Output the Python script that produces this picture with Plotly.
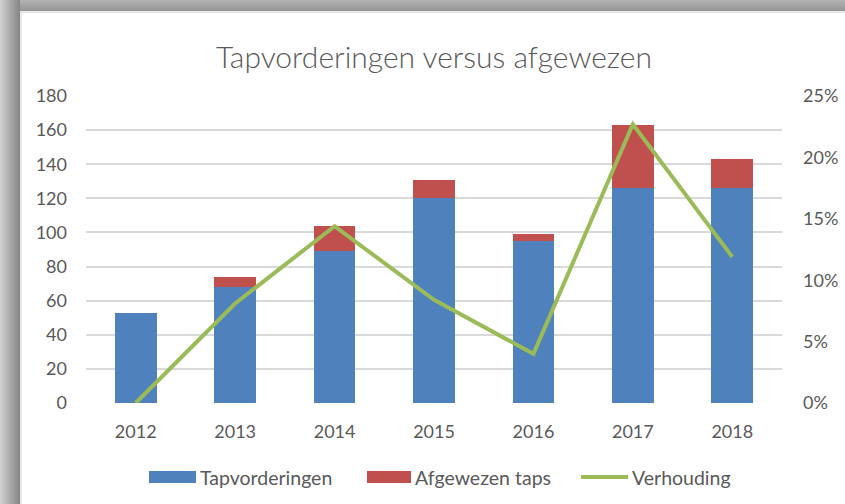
import plotly.graph_objects as go

years = ["2012", "2013", "2014", "2015", "2016", "2017", "2018"]
tapvorderingen = [53, 68, 89, 120, 95, 126, 126]
afgewezen = [0, 6, 15, 11, 4, 37, 17]
verhouding = [0.0, 0.081, 0.144, 0.084, 0.040, 0.227, 0.119]

left_ticks = [0, 20, 40, 60, 80, 100, 120, 140, 160, 180]
right_ticks = [0, 0.05, 0.10, 0.15, 0.20, 0.25]
right_labels = ["0%", "5%", "10%", "15%", "20%", "25%"]

series_names = ["Tapvorderingen", "Afgewezen taps", "Verhouding"]
series_colors = ["#4F81BD", "#C0504D", "#9BBB59"]

W, H = 845, 504
L, R, T, B = 86, 63, 96, 101
PW, PH = W - L - R, H - T - B

def px(x):
    return (x - L) / PW

def py(y):
    return (H - B - y) / PH

TXT = "#595959"
FONT = "Lato"

fig = go.Figure()
fig.add_trace(go.Bar(x=years, y=tapvorderingen, name=series_names[0],
                     marker=dict(color=series_colors[0], line=dict(width=0))))
fig.add_trace(go.Bar(x=years, y=afgewezen, name=series_names[1],
                     marker=dict(color=series_colors[1], line=dict(width=0))))
fig.add_trace(go.Scatter(x=years, y=verhouding, name=series_names[2], yaxis="y2",
                         mode="lines", line=dict(color=series_colors[2], width=4)))

shapes = []
# shadow frame: left strip gradient
n = 20
for i in range(n):
    c = int(208 - (208 - 135) * i / (n - 1))
    shapes.append(dict(type="rect", xref="paper", yref="paper",
                       x0=px(i), x1=px(i + 1), y0=py(H + 5), y1=py(-5),
                       fillcolor=f"rgb({c},{c},{c})", line=dict(width=0), layer="below"))
# top strip gradient
m = 11
for j in range(m):
    c = int(178 - (178 - 150) * j / (m - 1))
    shapes.append(dict(type="rect", xref="paper", yref="paper",
                       x0=px(20), x1=px(W + 5), y0=py(j + 1), y1=py(j),
                       fillcolor=f"rgb({c},{c},{c})", line=dict(width=0), layer="below"))
shapes.append(dict(type="line", xref="paper", yref="paper", x0=px(21), x1=px(21),
                   y0=py(11), y1=py(H + 5), line=dict(color="#E6E6E6", width=2), layer="below"))
shapes.append(dict(type="line", xref="paper", yref="paper", x0=px(20), x1=px(W + 5),
                   y0=py(12), y1=py(12), line=dict(color="#E6E6E6", width=2), layer="below"))

# custom legend (wide swatches like the original)
LEG_Y = 477
swatch_x = [(149, 196), (367, 411), (581, 628)]
annotations = []
for k, (name, col) in enumerate(zip(series_names, series_colors)):
    x0, x1 = swatch_x[k]
    if k < 2:
        shapes.append(dict(type="rect", xref="paper", yref="paper",
                           x0=px(x0), x1=px(x1), y0=py(LEG_Y + 6), y1=py(LEG_Y - 6),
                           fillcolor=col, line=dict(width=0)))
    else:
        shapes.append(dict(type="line", xref="paper", yref="paper",
                           x0=px(x0), x1=px(x1), y0=py(LEG_Y), y1=py(LEG_Y),
                           line=dict(color=col, width=4)))
    annotations.append(dict(text=name, xref="paper", yref="paper",
                            x=px(x1 + 2), y=py(LEG_Y), xanchor="left", yanchor="middle",
                            showarrow=False, font=dict(size=19.5, color=TXT, family=FONT)))

fig.update_layout(
    width=W, height=H,
    margin=dict(l=L, r=R, t=T, b=B, autoexpand=False),
    paper_bgcolor="white", plot_bgcolor="white",
    barmode="stack", bargap=0.58, showlegend=False,
    font=dict(family=FONT, color=TXT, size=18),
    title=dict(text="Tapvorderingen versus afgewezen", x=0.5, xanchor="center",
               xref="paper", y=1 - 57 / H, yanchor="middle",
               font=dict(size=30, color=TXT, family=FONT, weight=300)),
    xaxis=dict(showgrid=False, showline=False, ticks="", tickfont=dict(size=18, color=TXT),
               ticklabelstandoff=16),
    yaxis=dict(range=[0, 180], tickvals=left_ticks, showgrid=True, gridcolor="#D9D9D9",
               gridwidth=2, zeroline=False, showline=False, ticks="",
               tickfont=dict(size=18, color=TXT), ticklabelstandoff=18),
    yaxis2=dict(range=[0, 0.25], tickvals=right_ticks, ticktext=right_labels,
                overlaying="y", side="right", showgrid=False, zeroline=False,
                showline=False, ticks="", tickfont=dict(size=18, color=TXT),
                ticklabelstandoff=20),
    shapes=shapes,
    annotations=annotations,
)

fig.write_html("out.html", config={"displayModeBar": False},
               post_script="document.body.style.margin='0';document.body.style.overflow='hidden';")
